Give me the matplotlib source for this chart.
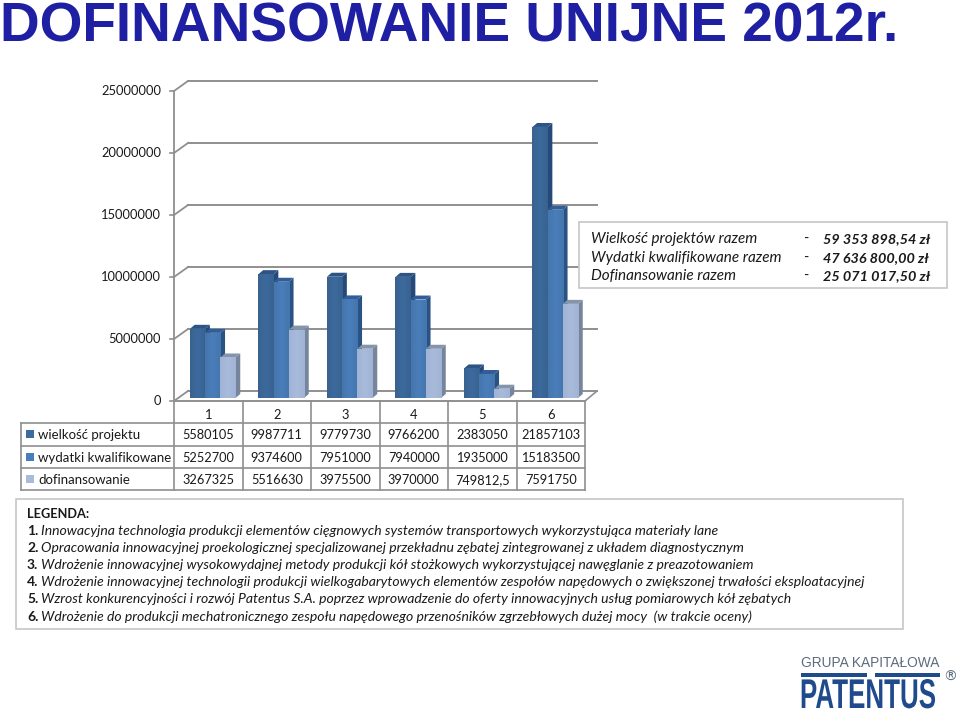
import numpy as np
import matplotlib
matplotlib.use("Agg")
import matplotlib.pyplot as plt
from matplotlib.patches import Polygon, Rectangle
from matplotlib.patheffects import AbstractPathEffect
from matplotlib.transforms import Affine2D

# -- data --
categories = ["1", "2", "3", "4", "5", "6"]
series_names = ["wielkość projektu", "wydatki kwalifikowane", "dofinansowanie"]
wielkosc = [5580105, 9987711, 9779730, 9766200, 2383050, 21857103]
wydatki = [5252700, 9374600, 7951000, 7940000, 1935000, 15183500]
dofinansowanie = [3267325, 5516630, 3975500, 3970000, 749812.5, 7591750]
y_ticks = [0, 5000000, 10000000, 15000000, 20000000, 25000000]

title = "DOFINANSOWANIE UNIJNE 2012r."
total_labels = ["Wielkość projektów razem", "Wydatki kwalifikowane razem", "Dofinansowanie razem"]
total_values = ["59 353 898,54 zł", "47 636 800,00 zł", "25 071 017,50 zł"]
legend_items = [
    "Innowacyjna technologia produkcji elementów cięgnowych systemów transportowych wykorzystująca materiały lane",
    "Opracowania innowacyjnej proekologicznej specjalizowanej przekładnu zębatej zintegrowanej z układem diagnostycznym",
    "Wdrożenie innowacyjnej wysokowydajnej metody produkcji kół stożkowych wykorzystującej nawęglanie z preazotowaniem",
    "Wdrożenie innowacyjnej technologii produkcji wielkogabarytowych elementów zespołów napędowych o zwiększonej trwałości eksploatacyjnej",
    "Wzrost konkurencyjności i rozwój Patentus S.A. poprzez wprowadzenie do oferty innowacyjnych usług pomiarowych kół zębatych",
    "Wdrożenie do produkcji mechatronicznego zespołu napędowego przenośników zgrzebłowych dużej mocy  (w trakcie oceny)",
]

front_colors = ["#3d6a9f", "#4a7ebb", "#a9bbdb"]
edge_colors = ["#38628f", "#4576ad", "#a0b3d5"]
side_colors = ["#254a7a", "#2a5285", "#76859b"]
top_colors = ["#2c5586", "#315e98", "#8494ab"]
GRID = "#8f8f8f"
TXT = "#1a1a1a"
FONT = "Lato"

W, H = 960, 712
fig = plt.figure(figsize=(W / 100, H / 100), dpi=100, facecolor="white")

# plot area in pixels: front plane of the 3D box
X0, X1, Y0, Y1 = 174, 585, 398, 88
ax = fig.add_axes([X0 / W, 1 - Y0 / H, (X1 - X0) / W, (Y0 - Y1) / H])
ax.set_xlim(0, 6)
ax.set_ylim(0, 25000000)
ax.axis("off")
px_x = 6 / (X1 - X0)
px_y = 25000000 / (Y0 - Y1)

# -- walls and gridlines --
for t in y_ticks:
    fy, by = t - 3 * px_y, t + 7 * px_y
    ax.plot([0, 14 * px_x], [fy, by], color=GRID, lw=1.3, clip_on=False, zorder=1)
    ax.plot([14 * px_x, 6 + 12 * px_x], [by, by], color=GRID, lw=1.4, clip_on=False, zorder=1)
    ax.plot([-4 * px_x, 0], [fy, fy], color=GRID, lw=1.2, clip_on=False, zorder=1)
    ax.text(-13 * px_x, fy, f"{t}", ha="right", va="center", fontsize=9.3,
            family=FONT, color=TXT, clip_on=False)
ax.plot([0, 0], [-3 * px_y, 25000000 - 3 * px_y], color=GRID, lw=1.3, clip_on=False, zorder=1)
# floor, front edge and right edge
ax.plot([0, 6], [-3 * px_y, -3 * px_y], color=GRID, lw=1.2, clip_on=False, zorder=1)
ax.plot([6, 6 + 12 * px_x], [-3 * px_y, 7 * px_y], color=GRID, lw=1.2, clip_on=False, zorder=1)

# -- bars with fake depth --
bar_w = 15.2 * px_x
dep_x = 4.7 * px_x
dep_y = 4 * px_y
gap_shift = 4.5 * px_x
z = 3
all_series = [wielkosc, wydatki, dofinansowanie]
for c in range(len(categories)):
    for s, values in enumerate(all_series):
        v = values[c]
        left = c + 0.5 + gap_shift + (s - 1.5) * bar_w
        right = left + bar_w
        ax.add_patch(Polygon([(right, 0), (right + dep_x, dep_y), (right + dep_x, v + dep_y), (right, v)],
                             fc=side_colors[s], ec="none", zorder=z, clip_on=False))
        ax.add_patch(Polygon([(left, v), (left + dep_x, v + dep_y), (right + dep_x, v + dep_y), (right, v)],
                             fc=top_colors[s], ec="none", zorder=z, clip_on=False))
        rect = ax.bar(left, v, width=bar_w, align="edge", color=front_colors[s], zorder=z + 0.1,
                      clip_on=False)[0]
        # soft horizontal shading on the front face
        grad = np.linspace(0, 1, 16).reshape(1, -1)
        cmap = matplotlib.colors.LinearSegmentedColormap.from_list(
            "b", [edge_colors[s], front_colors[s], edge_colors[s]])
        im = ax.imshow(grad, extent=(left, right, 0, v), aspect="auto", cmap=cmap, zorder=z + 0.2)
        im.set_clip_path(rect)
        z += 1
ax.set_xlim(0, 6)
ax.set_ylim(0, 25000000)

# -- everything else is placed on a pixel overlay --
ov = fig.add_axes([0, 0, 1, 1], zorder=50)
ov.set_xlim(0, W)
ov.set_ylim(H, 0)
ov.axis("off")
ov.patch.set_alpha(0)

ov.text(0, 41, title, fontsize=39.6, fontweight="bold", family="Liberation Sans",
        color="#1f1fa3", ha="left", va="baseline")

# -- data table --
TL, TC, TR = 21, 174, 585
rows_y = [401, 423, 446, 468, 490]
row_base = [439, 462, 484]
LINE = "#8f8f8f"
col_w = (TR - TC) / len(categories)
for i in range(len(categories) + 1):
    ov.plot([TC + i * col_w] * 2, [rows_y[0], rows_y[-1]], color=LINE, lw=1.2)
ov.plot([TC, TR], [rows_y[0]] * 2, color=LINE, lw=1.2)
for y in rows_y[1:]:
    ov.plot([TL, TR], [y, y], color=LINE, lw=1.2)
ov.plot([TL, TL], [rows_y[1], rows_y[-1]], color=LINE, lw=1.2)

for i, cat in enumerate(categories):
    ov.text(TC + (i + 0.5) * col_w, 419, cat, ha="center", va="baseline", fontsize=9.3, family=FONT, color=TXT)
for r, (name, values) in enumerate(zip(series_names, all_series)):
    yb = row_base[r]
    ov.add_patch(Rectangle((26, yb - 9), 8, 8, fc=front_colors[r], ec="none"))
    ov.text(38, yb, name, ha="left", va="baseline", fontsize=9.5, family=FONT, color=TXT)
    for i, v in enumerate(values):
        label = f"{v:.10g}".replace(".", ",")
        ov.text(TC + (i + 0.5) * col_w, yb, label, ha="center", va="baseline", fontsize=9.2, family=FONT, color=TXT)

# -- totals box --
ov.add_patch(Rectangle((579, 222), 368, 66, fc="white", ec="#c6c6c6", lw=1.2, zorder=2))
for y, lab, val in zip([243, 262, 280], total_labels, total_values):
    ov.text(591, y, lab, style="italic", fontsize=11, family=FONT, color=TXT, va="baseline", zorder=3)
    ov.text(803, y, "-", style="italic", fontsize=11, family=FONT, color=TXT, va="baseline", zorder=3)
    ov.text(823, y, val, style="italic", fontweight="bold", fontsize=10.4, family=FONT, color=TXT, va="baseline", zorder=3)

# -- description box --
ov.add_patch(Rectangle((16, 499), 887, 130, fc="white", ec="#c6c6c6", lw=1.2, zorder=2))
ov.text(27, 518, "LEGENDA:", fontweight="bold", fontsize=9.2, family=FONT, color=TXT, va="baseline", zorder=3)
for i, (y, item) in enumerate(zip([535, 552, 569, 586, 603, 621], legend_items)):
    ov.text(27, y, f"{i + 1}.", fontweight="bold", fontsize=10, family=FONT, color=TXT, va="baseline", zorder=3)
    ov.text(41, y, item, style="italic", fontsize=10.07, family=FONT, color=TXT, va="baseline", zorder=3)


# logo lettering is tall and condensed, so stretch the glyphs upwards
class Stretch(AbstractPathEffect):
    def __init__(self, sy, base_y):
        super().__init__()
        self.sy = sy
        self.base_y = base_y

    def draw_path(self, renderer, gc, tpath, affine, rgbFace=None):
        tr = affine + Affine2D().translate(0, -self.base_y).scale(1, self.sy).translate(0, self.base_y)
        renderer.draw_path(gc, tpath, tr, rgbFace)


# -- logo --
NAVY = "#1f4a8c"
ov.text(870, 663, "GRUPA KAPITAŁOWA", ha="center", va="center", fontsize=9.95,
        family="Liberation Sans", color="#5c6b7d")
ov.add_patch(Rectangle((801, 673), 66, 4, fc=NAVY, ec="none"))
ov.add_patch(Rectangle((875, 673), 65, 4, fc=NAVY, ec="none"))
ov.text(868, 708, "PATENTUS", ha="center", va="baseline", fontsize=18.7, fontweight="bold",
        family="Liberation Sans", color=NAVY, path_effects=[Stretch(1.6, H - 708)])
ov.text(950, 677, "®", ha="center", va="center", fontsize=10, family="DejaVu Sans", color="#5c6b7d")

fig.savefig("out.png", dpi=100)
